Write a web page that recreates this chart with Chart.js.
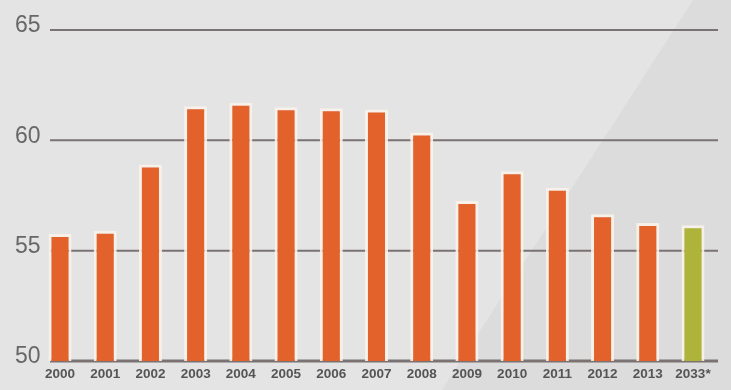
<!DOCTYPE html>
<html>
<head>
<meta charset="utf-8">
<script src="https://cdn.jsdelivr.net/npm/chart.js@4"></script>
<style>
html, body { margin: 0; padding: 0; background: #e4e4e4; }
#wrap { width: 731px; height: 390px; position: relative; }
</style>
</head>
<body>
<div id="wrap"><canvas id="barChart" width="731" height="390"></canvas></div>
<script>
// Chart data
const years = ['2000', '2001', '2002', '2003', '2004', '2005', '2006', '2007',
  '2008', '2009', '2010', '2011', '2012', '2013', '2033*'];
const values = [55.75, 55.9, 58.9, 61.55, 61.7, 61.5, 61.45, 61.4,
  60.35, 57.25, 58.6, 57.85, 56.65, 56.25, 56.15];
const yTicks = [50, 55, 60, 65];

const ORANGE = '#e3612b';
const GREEN = '#aeb43a';
const LINE = '#7a7273';

// Background with the diagonal shade on the right
const backdropPlugin = {
  id: 'backdrop',
  beforeDraw: (chart) => {
    const { ctx, width, height } = chart;
    ctx.save();
    ctx.fillStyle = '#e4e4e4';
    ctx.fillRect(0, 0, width, height);
    ctx.beginPath();
    ctx.moveTo(693, 0);
    ctx.lineTo(width, 0);
    ctx.lineTo(width, height);
    ctx.lineTo(442, height);
    ctx.closePath();
    ctx.fillStyle = '#dcdcdd';
    ctx.fill();
    ctx.restore();
  }
};

// Horizontal rules and y labels, drawn under the bars
const rulesPlugin = {
  id: 'rules',
  beforeDatasetsDraw: (chart) => {
    const { ctx, scales: { y } } = chart;
    ctx.save();
    yTicks.forEach((v) => {
      const py = y.getPixelForValue(v);
      ctx.beginPath();
      ctx.strokeStyle = LINE;
      ctx.lineWidth = v === 50 ? 3 : 2;
      ctx.moveTo(50, py);
      ctx.lineTo(718, py);
      ctx.stroke();
      ctx.fillStyle = '#676767';
      ctx.font = '23px "Liberation Sans", Arial, sans-serif';
      ctx.textAlign = 'left';
      ctx.textBaseline = 'middle';
      ctx.fillText(String(v), 15, py - 4);
    });
    ctx.restore();
  }
};

const ctx = document.getElementById('barChart').getContext('2d');
const barChart = new Chart(ctx, {
  type: 'bar',
  data: {
    labels: years,
    datasets: [{
      data: values,
      backgroundColor: (c) => years[c.dataIndex].endsWith('*') ? GREEN : ORANGE,
      borderColor: 'rgba(250,242,233,0.9)',
      borderWidth: 3,
      borderSkipped: 'start',
      categoryPercentage: 1,
      barPercentage: 0.51
    }]
  },
  options: {
    responsive: false,
    animation: false,
    layout: { padding: { left: 37.4, right: 15.4, top: 30, bottom: 0 } },
    plugins: {
      legend: { display: false },
      tooltip: { enabled: false }
    },
    scales: {
      x: {
        grid: { display: false, drawTicks: false },
        border: { display: false },
        ticks: {
          color: '#555555',
          font: { family: '"Liberation Sans", Arial, sans-serif', size: 13.5, weight: 'bold' },
          padding: 5,
          maxRotation: 0,
          autoSkip: false
        },
        afterFit: (scale) => { scale.height = 29; }
      },
      y: {
        display: false,
        min: 50,
        max: 65
      }
    }
  },
  plugins: [backdropPlugin, rulesPlugin]
});
</script>
</body>
</html>
